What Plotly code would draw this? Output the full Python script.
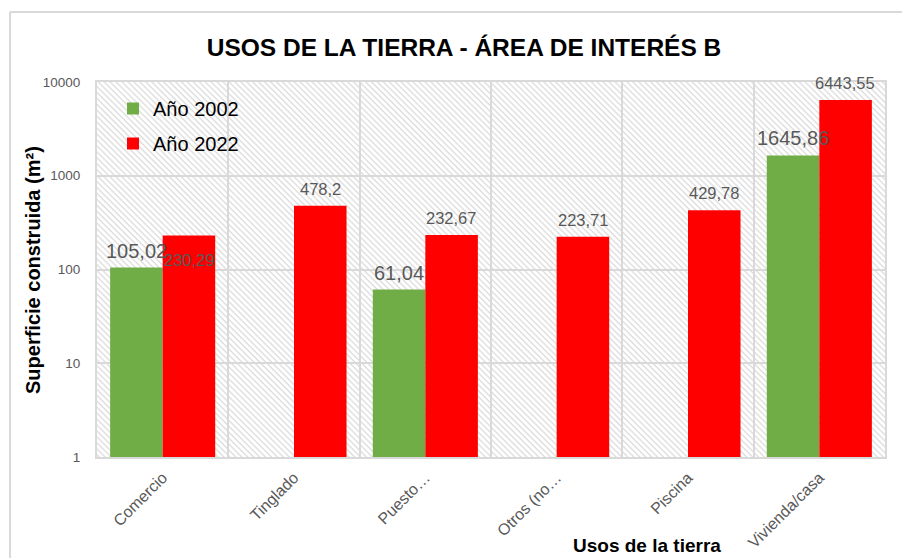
import base64
import numpy as np
import plotly.graph_objects as go

categories = ["Comercio", "Tinglado", "Puesto…", "Otros (no…", "Piscina", "Vivienda/casa"]
values_2002 = [105.02, None, 61.04, None, None, 1645.86]
values_2022 = [230.29, 478.2, 232.67, 223.71, 429.78, 6443.55]
labels_2002 = ["105,02", None, "61,04", None, None, "1645,86"]
labels_2022 = ["230,29", "478,2", "232,67", "223,71", "429,78", "6443,55"]
y_tick_vals = [1, 10, 100, 1000, 10000]
y_tick_text = ["1", "10", "100", "1000", "10000"]

W, H = 902, 558
# plot area in pixels
SL, ST, SR, SB = 97, 82, 885, 457
L, T, R, B = SL, ST, W - SR, H - SB
pw, ph = W - L - R, H - T - B

GREEN = "#70AD47"
RED = "#FF0000"
GRID = "#d9d9d9"
GRAYTXT = "#595959"
FONT = "Liberation Sans, Arial, sans-serif"

fig = go.Figure()
fig.add_trace(go.Bar(x=categories, y=values_2002, name="Año 2002",
                     marker=dict(color=GREEN, line=dict(width=0)), legendgroup="a"))
fig.add_trace(go.Bar(x=categories, y=values_2022, name="Año 2022",
                     marker=dict(color=RED, line=dict(width=0)), legendgroup="b"))

# hatched background as svg image
svg = (f"<svg xmlns='http://www.w3.org/2000/svg' width='{pw}' height='{ph}'>"
       "<defs><pattern id='p' width='4.2' height='4.2' patternUnits='userSpaceOnUse' patternTransform='rotate(-45)'>"
       "<line x1='1' y1='0' x2='1' y2='4.2' stroke='#d9d9d9' stroke-width='1.2'/></pattern></defs>"
       "<rect width='100%' height='100%' fill='white'/>"
       "<rect width='100%' height='100%' fill='url(#p)'/></svg>")
src = "data:image/svg+xml;base64," + base64.b64encode(svg.encode()).decode()
fig.add_layout_image(dict(source=src, xref="paper", yref="paper", x=0, y=1,
                          sizex=1, sizey=1, sizing="stretch", layer="below",
                          xanchor="left", yanchor="top"))

annotations = []
special_shift = {("2022", "Comercio"): -24}
for series, vals, labs, xs, fsize in [("2002", values_2002, labels_2002, -26, 20),
                                      ("2022", values_2022, labels_2022, 26, 16.5)]:
    for c, v, lab in zip(categories, vals, labs):
        if v is None:
            continue
        annotations.append(dict(x=c, y=float(np.log10(v)), xref="x", yref="y", text=lab,
                                showarrow=False, xshift=xs,
                                yshift=special_shift.get((series, c), 17),
                                font=dict(family=FONT, size=fsize, color=GRAYTXT)))

px2xp = lambda px: (px - L) / pw
py2yp = lambda py: (H - B - py) / ph

annotations.append(dict(text="<b>Superficie construida (m²)</b>", xref="paper", yref="paper",
                        x=px2xp(33), y=py2yp(270), textangle=-90, showarrow=False,
                        xanchor="center", yanchor="middle",
                        font=dict(family=FONT, size=20, color="#000000")))
annotations.append(dict(text="<b>Usos de la tierra</b>", xref="paper", yref="paper",
                        x=px2xp(647), y=py2yp(545), showarrow=False,
                        xanchor="center", yanchor="middle",
                        font=dict(family=FONT, size=19, color="#000000")))

shapes = [
    dict(type="line", xref="paper", yref="paper", x0=px2xp(10), x1=px2xp(10),
         y0=py2yp(12), y1=py2yp(H), line=dict(color=GRID, width=2)),
    dict(type="line", xref="paper", yref="paper", x0=px2xp(10), x1=px2xp(W),
         y0=py2yp(12), y1=py2yp(12), line=dict(color=GRID, width=2)),
]

fig.update_layout(
    width=W, height=H,
    margin=dict(l=L, r=R, t=T, b=B, autoexpand=False),
    paper_bgcolor="white",
    plot_bgcolor="rgba(0,0,0,0)",
    barmode="group", bargap=0.2, bargroupgap=0,
    title=dict(text="<b>USOS DE LA TIERRA - ÁREA DE INTERÉS B</b>", xref="paper",
               x=px2xp(464), xanchor="center", y=1 - 47 / H, yanchor="middle",
               font=dict(family=FONT, size=24.5, color="#000000")),
    legend=dict(x=px2xp(113), y=py2yp(89), xanchor="left", yanchor="top",
                bgcolor="rgba(0,0,0,0)", traceorder="grouped", tracegroupgap=6,
                font=dict(family=FONT, size=20, color="#000000")),
    annotations=annotations,
    shapes=shapes,
    xaxis=dict(type="category", tickson="boundaries", showgrid=True, gridcolor=GRID,
               gridwidth=2, showline=True, linecolor=GRID, linewidth=2, mirror=True,
               ticks="", tickangle=-45, ticklabelstandoff=3, automargin=False,
               tickfont=dict(family=FONT, size=16, color=GRAYTXT)),
    yaxis=dict(type="log", range=[0, 4], tickvals=y_tick_vals, ticktext=y_tick_text,
               showgrid=True, gridcolor=GRID, gridwidth=2, showline=True,
               linecolor=GRID, linewidth=2, mirror=True, ticks="", zeroline=False,
               ticklabelstandoff=12, automargin=False,
               tickfont=dict(family=FONT, size=13.5, color=GRAYTXT)),
)

fig.write_html("out.html", config={"displayModeBar": False},
               post_script="document.body.style.margin='0';document.body.style.overflow='hidden';")
